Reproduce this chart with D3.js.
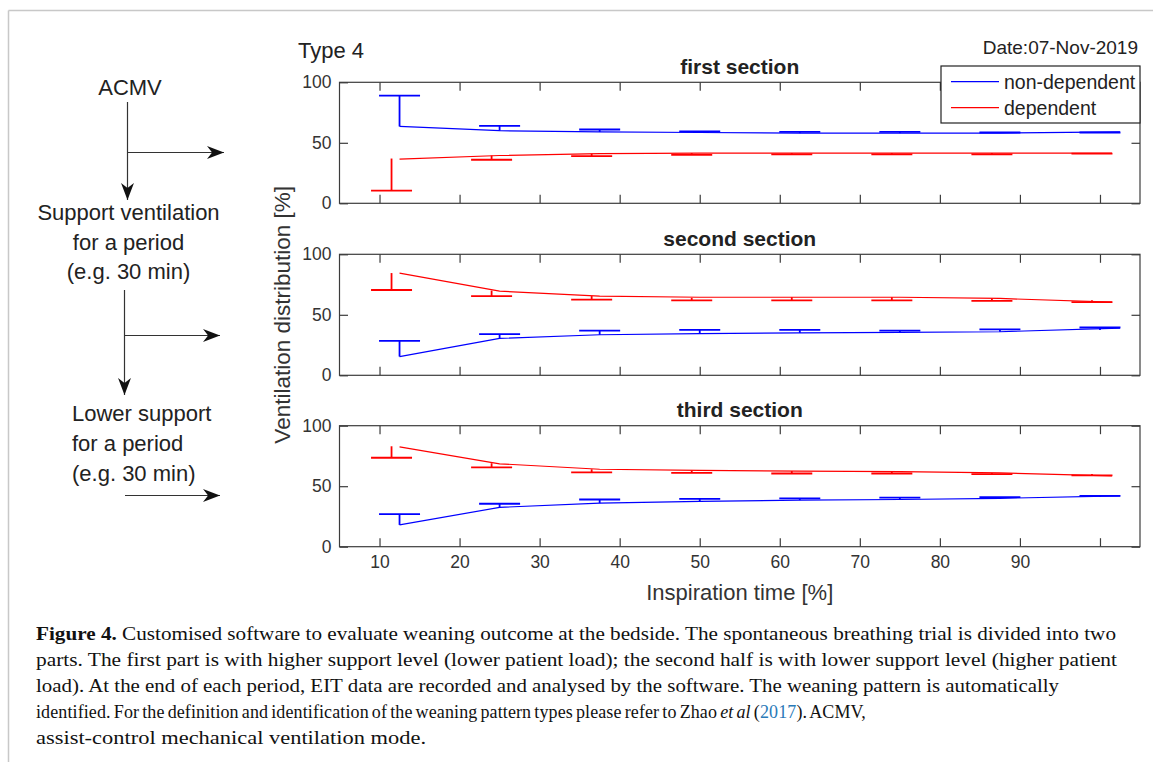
<!DOCTYPE html>
<html>
<head>
<meta charset="utf-8">
<script src="https://cdn.jsdelivr.net/npm/d3@7"></script>
<style>
  body { margin: 0; background: #fff; }
  svg { display: block; }
  .tick text { font-family: 'Liberation Sans', Arial, sans-serif; }
</style>
</head>
<body>
<svg id="figure" width="1153" height="762"></svg>
<script>
// x ticks of the inspiration time axis (the 100 tick has no label)
const xTicks = [10, 20, 30, 40, 50, 60, 70, 80, 90, 100];
const xTickLabels = ['10', '20', '30', '40', '50', '60', '70', '80', '90', ''];
const yTicks = [0, 50, 100];

const sectionNames = ['first section', 'second section', 'third section'];
const seriesNames = ['non-dependent', 'dependent'];

// positions of the error bars and of the line vertices
const blueBarX = [12.5, 25, 37.5, 50, 62.5, 75, 87.5, 100];
const redBarX = [11.5, 24, 36.5, 49, 61.5, 74, 86.5, 99];
const blueLineX = [12.5, 25, 37.5, 50, 62.5, 75, 87.5, 102.5];
const redLineX = [12.5, 25, 37.5, 50, 62.5, 75, 87.5, 101.5];

// first section
const blueLine1 = [63.5, 60, 59, 58.5, 58, 58, 58, 59];
const blueCap1 = [89, 64, 61, 59.5, 59, 59, 58.5, 58.5];
const blueStem1 = [63.5, 60, 59, 58.5, 58, 58, 58, 58.5];
const redLine1 = [36.5, 39.5, 41, 41.5, 41.5, 41.5, 41.5, 41.5];
const redCap1 = [10.5, 36, 39, 40, 40.5, 40.5, 40.5, 41];
const redStem1 = [37, 39.5, 41, 41.5, 41.5, 41.5, 41.5, 41.5];

// second section
const blueLine2 = [15.5, 30.5, 33.5, 34.5, 35, 35.5, 36, 39];
const blueCap2 = [28.5, 34, 37, 37.5, 37.5, 37, 38, 39.5];
const blueStem2 = [15.5, 30.5, 33.5, 34.5, 35, 35, 36, 37.5];
const redLine2 = [84.5, 69.5, 65.5, 64.5, 64.5, 64.5, 63.5, 60.5];
const redCap2 = [70.5, 65.5, 62.5, 62, 62, 62, 61.5, 60.5];
const redStem2 = [84.5, 70, 65.5, 64, 64.5, 64.5, 63.5, 62];

// third section
const blueLine3 = [18, 32.5, 36, 37.5, 38.5, 39, 40, 42];
const blueCap3 = [27, 35.5, 39, 39.5, 40, 40.5, 41, 42];
const blueStem3 = [18, 32.5, 36, 37.5, 38.5, 39, 40, 41];
const redLine3 = [82.5, 68.5, 64, 63, 62.5, 62, 61, 58.5];
const redCap3 = [73.5, 65.5, 61.5, 61, 60.5, 60.5, 60, 59];
const redStem3 = [83, 69, 64, 63, 62.5, 62, 61, 60];

const sections = [
  { blue: [blueLine1, blueCap1, blueStem1], red: [redLine1, redCap1, redStem1] },
  { blue: [blueLine2, blueCap2, blueStem2], red: [redLine2, redCap2, redStem2] },
  { blue: [blueLine3, blueCap3, blueStem3], red: [redLine3, redCap3, redStem3] }
];

const sans = "'Liberation Sans', Arial, sans-serif";
const serif = "'Liberation Serif', 'Times New Roman', serif";
const axisColor = '#3c3c3c';
const textColor = '#333333';
const blue = '#0000ff';
const red = '#ff0000';

const svg = d3.select('#figure');

// page frame
svg.append('line').attr('x1', 8.5).attr('x2', 1153).attr('y1', 10.5).attr('y2', 10.5)
  .attr('stroke', '#c8c8c8').attr('stroke-width', 1.5);
svg.append('line').attr('x1', 8.5).attr('x2', 8.5).attr('y1', 10.5).attr('y2', 762)
  .attr('stroke', '#c8c8c8').attr('stroke-width', 1.5);

// flowchart on the left
const defs = svg.append('defs');
defs.append('marker')
  .attr('id', 'arrow')
  .attr('viewBox', '0 0 10 10')
  .attr('refX', 10).attr('refY', 5)
  .attr('markerWidth', 17).attr('markerHeight', 17)
  .attr('markerUnits', 'userSpaceOnUse')
  .attr('orient', 'auto')
  .append('path')
  .attr('d', 'M0,1.2 L10,5 L0,8.8 L3,5 Z')
  .attr('fill', '#111');

const flow = svg.append('g').attr('font-family', sans).attr('fill', '#222').attr('font-size', 22);
const arrow = (x1, y1, x2, y2) => flow.append('line')
  .attr('x1', x1).attr('y1', y1).attr('x2', x2).attr('y2', y2)
  .attr('stroke', '#333').attr('stroke-width', 1.2)
  .attr('marker-end', 'url(#arrow)');

flow.append('text').text('ACMV').attr('x', 130).attr('y', 95).attr('text-anchor', 'middle');
arrow(127.5, 102, 127.5, 200);
arrow(127.5, 152.5, 224, 152.5);

const block1 = ['Support ventilation', 'for a period', '(e.g. 30 min)'];
block1.forEach((t, i) => {
  flow.append('text').text(t).attr('x', 128.5).attr('y', 220 + i * 29.5).attr('text-anchor', 'middle');
});
arrow(124.5, 290, 124.5, 395);
arrow(124.5, 335.5, 220, 335.5);

const block2 = ['Lower support', 'for a period', '(e.g. 30 min)'];
block2.forEach((t, i) => {
  flow.append('text').text(t).attr('x', 72).attr('y', 420.5 + i * 30).attr('text-anchor', 'start');
});
arrow(125, 495.5, 220, 495.5);

// chart panels
const left = 339.5;
const right = 1140;
const panelTops = [82.3, 254.3, 425.7];
const panelHeight = 121;

const xScale = d3.scaleLinear().domain([5, 105]).range([left, right]);
const capHalf = 20.5;

svg.append('text').text('Type 4')
  .attr('x', 298).attr('y', 58)
  .attr('font-family', sans).attr('font-size', 22).attr('fill', '#222');
svg.append('text').text('Date:07-Nov-2019')
  .attr('x', 1138).attr('y', 54).attr('text-anchor', 'end')
  .attr('font-family', sans).attr('font-size', 19).attr('fill', '#222');

sections.forEach((sec, si) => {
  const top = panelTops[si];
  const bottom = top + panelHeight;
  const yScale = d3.scaleLinear().domain([0, 100]).range([bottom, top]);
  const panel = svg.append('g').attr('class', 'panel');

  panel.append('text')
    .text(sectionNames[si])
    .attr('x', (left + right) / 2)
    .attr('y', top - 8.5)
    .attr('text-anchor', 'middle')
    .attr('font-family', sans)
    .attr('font-weight', 'bold')
    .attr('font-size', 21)
    .attr('fill', '#222');

  const yAxis = d3.axisLeft(yScale).tickValues(yTicks).tickSizeInner(-8.5).tickSizeOuter(0).tickPadding(8);
  const yAxisRight = d3.axisRight(yScale).tickValues(yTicks).tickSizeInner(-8.5).tickSizeOuter(0).tickFormat('');
  const xAxisBottom = d3.axisBottom(xScale).tickValues(xTicks).tickSizeInner(-8.5).tickSizeOuter(0).tickPadding(9)
    .tickFormat((d, i) => si === 2 ? xTickLabels[i] : '');
  const xAxisTop = d3.axisTop(xScale).tickValues(xTicks).tickSizeInner(-8.5).tickSizeOuter(0).tickFormat('');

  const axes = [
    panel.append('g').attr('transform', `translate(${left},0)`).call(yAxis),
    panel.append('g').attr('transform', `translate(${right},0)`).call(yAxisRight),
    panel.append('g').attr('transform', `translate(0,${bottom})`).call(xAxisBottom),
    panel.append('g').attr('transform', `translate(0,${top})`).call(xAxisTop)
  ];
  axes.forEach(a => {
    a.select('.domain').remove();
    a.selectAll('.tick line').attr('stroke', axisColor).attr('stroke-width', 1.2);
    a.selectAll('.tick text').attr('fill', textColor).attr('font-size', 17.5);
  });

  panel.append('rect')
    .attr('x', left).attr('y', top)
    .attr('width', right - left).attr('height', panelHeight)
    .attr('fill', 'none').attr('stroke', axisColor).attr('stroke-width', 1.2);

  const drawSeries = (vals, barX, lineX, color) => {
    const [lineVals, capVals, stemVals] = vals;
    const g = panel.append('g');
    const line = d3.line().x(d => xScale(d[0])).y(d => yScale(d[1]));
    g.append('path')
      .datum(lineX.map((x, i) => [x, lineVals[i]]))
      .attr('d', line)
      .attr('fill', 'none')
      .attr('stroke', color)
      .attr('stroke-width', 1.2);
    const bars = barX.map((x, i) => ({ x: x, cap: capVals[i], stem: stemVals[i] }));
    g.selectAll('.stem')
      .data(bars)
      .enter()
      .append('line')
      .attr('x1', d => xScale(d.x)).attr('x2', d => xScale(d.x))
      .attr('y1', d => yScale(d.cap)).attr('y2', d => yScale(d.stem))
      .attr('stroke', color).attr('stroke-width', 1.8);
    g.selectAll('.cap')
      .data(bars)
      .enter()
      .append('line')
      .attr('x1', d => xScale(d.x) - capHalf).attr('x2', d => xScale(d.x) + capHalf)
      .attr('y1', d => yScale(d.cap)).attr('y2', d => yScale(d.cap))
      .attr('stroke', color).attr('stroke-width', 1.8);
  };

  drawSeries(sec.red, redBarX, redLineX, red);
  drawSeries(sec.blue, blueBarX, blueLineX, blue);
});

// axis labels
svg.append('text')
  .text('Inspiration time [%]')
  .attr('x', (left + right) / 2)
  .attr('y', 600)
  .attr('text-anchor', 'middle')
  .attr('font-family', sans).attr('font-size', 22).attr('fill', textColor);

svg.append('text')
  .text('Ventilation distribution [%]')
  .attr('transform', `translate(290,${panelTops[1] + panelHeight / 2}) rotate(-90)`)
  .attr('text-anchor', 'middle')
  .attr('font-family', sans).attr('font-size', 22.5).attr('fill', textColor);

// legend
const legend = svg.append('g').attr('transform', 'translate(941,66)');
legend.append('rect')
  .attr('width', 199).attr('height', 57)
  .attr('fill', '#fff').attr('stroke', '#222').attr('stroke-width', 1.2);
legend.selectAll('.entry')
  .data(seriesNames)
  .enter()
  .append('g')
  .attr('transform', (d, i) => `translate(0,${15.7 + i * 26})`)
  .each(function(d, i) {
    const e = d3.select(this);
    e.append('line').attr('x1', 10).attr('x2', 58).attr('y1', 0).attr('y2', 0)
      .attr('stroke', i === 0 ? blue : red).attr('stroke-width', 1.2);
    e.append('text').text(d).attr('x', 63).attr('y', 6.8)
      .attr('font-family', sans).attr('font-size', 19.5).attr('fill', '#222');
  });

// caption: plain lines are fitted with textLength, the mixed-style line with spacing
const caption = svg.append('g').attr('font-family', serif).attr('fill', '#111');
const capLines = [
  { parts: [['Figure 4.', 'bold'], [' Customised software to evaluate weaning outcome at the bedside. The spontaneous breathing trial is divided into two', '']], w: 1080 },
  { parts: [['parts. The first part is with higher support level (lower patient load); the second half is with lower support level (higher patient', '']], w: 1081 },
  { parts: [['load). At the end of each period, EIT data are recorded and analysed by the software. The weaning pattern is automatically', '']], w: 1023 },
  { parts: [['identified. For the definition and identification of the weaning pattern types please refer to Zhao ', ''], ['et al', 'italic'], [' (', ''], ['2017', 'link'], ['). ACMV,', '']], w: 830 },
  { parts: [['assist-control mechanical ventilation mode.', '']], w: 390 }
];
capLines.forEach((ln, i) => {
  const t = caption.append('text')
    .attr('x', 36).attr('y', 640 + i * 26)
    .attr('xml:space', 'preserve');
  ln.parts.forEach(p => {
    const ts = t.append('tspan').text(p[0]);
    if (p[1] === 'bold') ts.attr('font-weight', 'bold');
    if (p[1] === 'italic') ts.attr('font-style', 'italic');
    if (p[1] === 'link') ts.attr('fill', '#2a7ab8');
  });
  if (ln.parts.length > 2) {
    t.attr('font-size', 18).style('word-spacing', '-1.5px');
    const natural = t.node().getComputedTextLength();
    const n = d3.sum(ln.parts, p => p[0].length);
    t.style('letter-spacing', ((ln.w - natural) / n).toFixed(3) + 'px');
  } else {
    t.attr('font-size', 19)
      .attr('textLength', ln.w)
      .attr('lengthAdjust', 'spacingAndGlyphs');
  }
});
</script>
</body>
</html>
